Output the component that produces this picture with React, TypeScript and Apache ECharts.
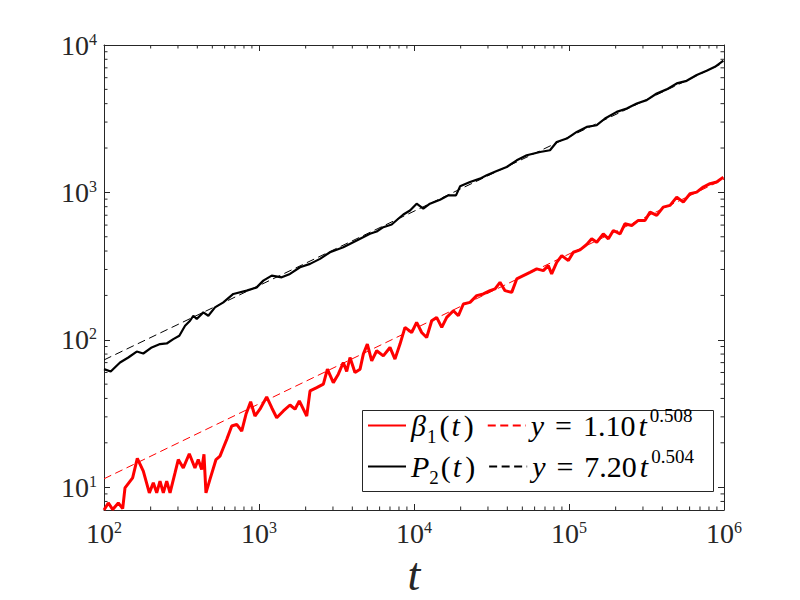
import React, { useEffect, useRef } from 'react';
import * as echarts from 'echarts';

// beta_1(t)
const betaTimes = [
  100, 106.6, 113.8, 123.7, 132.0, 136.6, 153.0, 164.0, 179.3, 196.1, 208.0, 218.8, 229.8, 241.4, 253.9, 266.7,
  287.2, 301.5, 324.8, 355.1, 386.2, 405.5, 426.6, 441.6, 454.8, 482.6, 528.0, 560.2, 588.8, 619.3, 667.1, 718.3,
  773.6, 824.1, 883.4, 941.5, 1014, 1121, 1208, 1301, 1436, 1585, 1707, 1820, 2032, 2134, 2357, 2602, 2762, 3016,
  3249, 3499, 3680, 3865, 4160, 4487, 4710, 5000, 5335, 5745, 6339, 7000, 7535, 8123, 8749, 9662, 10400, 11210,
  12070, 13010, 14000, 15100, 16260, 17950, 19330, 20820, 22980, 25380, 28010, 30920, 33330, 35890, 38650, 42690,
  46000, 50730, 55990, 61880, 68280, 73500, 77270, 83300, 89780, 99080, 106700, 117800, 130100, 140100, 151000,
  166400, 179500, 193200, 213500, 229700, 253900, 279900, 309000, 333400, 368100, 405500, 448700, 495500, 546300,
  603400, 666800, 735200, 812300, 897100, 990800,
];
const betaValues = [
  7.0, 7.82, 7.05, 7.82, 7.16, 9.89, 11.57, 15.67, 12.85, 9.15, 10.7, 9.15, 11.0, 9.15, 11.0, 9.15,
  12.5, 15.4, 13.5, 16.85, 13.5, 15.4, 13.2, 16.7, 9.15, 11.3, 15.4, 16.25, 18.5, 21.1, 26.0, 26.7,
  24.0, 31.2, 38.0, 30.4, 33.8, 41.0, 34.6, 29.6, 32.9, 36.1, 33.8, 38.5, 30.4, 45.0, 47.4, 50.0, 63.2, 51.2,
  58.4, 70.1, 60.9, 75.8, 59.9, 63.2, 79.9, 93.5, 71.9, 84.2, 77.8, 88.7, 73.9, 93.5, 121.3, 112.1, 131.1, 112.1,
  103.7, 134.6, 141.8, 121.3, 141.8, 157.5, 145.6, 174.9, 179.4, 199.2, 204.6, 215.4, 221.3, 245.4, 215.4, 209.7,
  258.8, 272.5, 286.9, 302.6, 294.6, 318.7, 279.9, 335.6, 372.6, 344.6, 392.6, 407.6, 442.7, 484.2, 459.2,
  523.6, 484.2, 551.4, 523.6, 612.6, 596.6, 645.3, 645.3, 734.8, 697.7, 794.3, 816.3, 929.0, 859,
  979.6, 1004, 1087, 1146, 1175, 1270,
];

// P_2(t)
const p2Times = [
  100, 110.5, 126.9, 143.5, 162.6, 179.3, 203.2, 229.8, 253.9, 280.0, 306.2, 333.4, 359.1, 377.0, 396.5, 437.2,
  471.2, 520.2, 588.8, 682.7, 833.0, 966.5, 1066, 1208, 1401, 1585, 1839, 2134, 2475, 2871, 3499, 4270, 5200,
  5745, 6339, 7180, 7917, 8536, 9424, 10400, 11480, 12670, 14720, 16650, 18660, 19820, 22980, 26660, 29440, 34170,
  39640, 46000, 53370, 65010, 75400, 83300, 96700, 112200, 130100, 151000, 170700, 203200, 235600, 273500, 317000,
  368100, 426600, 495500, 574100, 666800, 772700, 874600, 990800,
];
const p2Values = [
  63.2, 60.9, 70.1, 75.8, 83.2, 80.7, 88.7, 93.5, 94.4, 101, 106.4, 124.5, 134.6, 145.6, 138.3, 153.4,
  145.6, 165.9, 179.4, 204.6, 215.4, 226.8, 251.9, 272.5, 265.3, 279.9, 310.4, 327.3, 354, 392.6, 424.6, 471.5, 523.6,
  542.6, 580.7, 605.6, 662.3, 708, 754, 837.7, 774.6, 837.7, 891.9, 954.6, 954.6, 1099, 1175, 1240, 1305, 1396,
  1486, 1651, 1785, 1880, 1931, 2199, 2318, 2571, 2781, 2856, 3171, 3518, 3710, 4012, 4225,
  4690, 5000, 5486, 5715, 6251, 6683, 7117, 7823,
];

// fitted power laws (end points of the dashed lines)
const fitTimes = [100, 1000000];
const fit1Values = [11.4, 1230];
const fit2Values = [73.0, 7600];

const X_MIN = 100;
const X_MAX = 1000000;
const Y_MIN = 7;
const Y_MAX = 10000;
const xDecades = [100, 1000, 10000, 100000];
const yDecades = [1, 10, 100, 1000];
const minorSteps = [2, 3, 4, 5, 6, 7, 8, 9];

const legendRow1 = ['beta', 'fit1'];
const legendRow2 = ['P2', 'fit2'];
const legendLabels: Record<string, string> = {
  beta: '{gb|β}{s1|1}{lp|(}{it|t}{rp|)}',
  fit1: '{y|y}{eq|=}{num|1.10}{t|t}{sup|0.508}',
  P2: '{gp|P}{s2|2}{lp|(}{it|t}{rp|)}',
  fit2: '{y|y}{eq|=}{num|7.20}{t|t}{sup|0.504}',
};

const FONT = '"Liberation Serif", "Times New Roman", serif';
const AXIS = '#262626';

export default function App() {
  const ref = useRef<HTMLDivElement>(null);

  useEffect(() => {
    const chart = echarts.init(ref.current as HTMLDivElement, null, { renderer: 'svg' });
    const zip = (ts: number[], vs: number[]) => ts.map((t, i) => [t, vs[i]]);

    const xMinor: number[] = [];
    xDecades.forEach((d) => minorSteps.forEach((k) => xMinor.push(k * d)));
    const yMinor: number[] = [];
    yDecades.forEach((d) => minorSteps.forEach((k) => {
      const v = k * d;
      if (v > Y_MIN && v < Y_MAX) yMinor.push(v);
    }));
    const minorData = [
      ...xMinor.map((t) => [t, Y_MIN, 0]),
      ...yMinor.map((v) => [X_MIN, v, 1]),
    ];

    const labelFmt = (v: number) => `{b|10}{s|${Math.round(Math.log10(v))}}`;
    const labelRich = {
      b: { fontFamily: FONT, fontSize: 28, lineHeight: 28, color: AXIS },
      s: { fontFamily: FONT, fontSize: 16, lineHeight: 16, verticalAlign: 'top', color: AXIS },
    };

    const axisCommon = {
      type: 'log' as const,
      logBase: 10,
      axisLine: { show: true, lineStyle: { color: AXIS, width: 1 } },
      axisTick: { show: true, inside: true, length: 6, lineStyle: { color: AXIS, width: 1 } },
      splitLine: { show: false },
      minorTick: { show: false },
    };

    const L = 3.5;
    const tickStyle = { stroke: AXIS, lineWidth: 1 };
    const base = { fontFamily: FONT, fontSize: 30, lineHeight: 29, color: '#000' };
    const ital = { ...base, fontStyle: 'italic' };
    const small = { fontFamily: FONT, fontSize: 19, color: '#000' };

    const legendRow = (data: string[], top: number) => ({
      left: 367,
      top,
      orient: 'horizontal',
      padding: 0,
      itemGap: 12,
      itemWidth: 38,
      itemHeight: 14,
      z: 6,
      selectedMode: false,
      itemStyle: { opacity: 0 },
      data,
      formatter: (name: string) => legendLabels[name],
      textStyle: {
        ...base,
        rich: {
          gb: { ...ital },
          gp: { ...ital },
          s1: { ...small, verticalAlign: 'bottom', padding: [0, 2, -6, 1] },
          s2: { ...small, verticalAlign: 'bottom', padding: [0, 1, -6, 0] },
          lp: { ...base, padding: [0, 0, 0, 1] },
          it: { ...ital, padding: [0, 2, 0, 2] },
          rp: { ...base, padding: [0, 1, 0, 2] },
          y: { ...ital },
          eq: { ...base, padding: [0, 11, 0, 11] },
          num: { ...base, padding: [0, 3, 0, 0] },
          t: { ...ital, padding: [0, 2, 0, 0] },
          sup: { ...small, verticalAlign: 'top', padding: [-5, 10, 0, 1] },
        },
      },
    });

    chart.setOption({
      animation: false,
      backgroundColor: '#fff',
      grid: { left: 104, top: 45, right: 76, bottom: 90, containLabel: false, outerBoundsMode: 'none' },
      xAxis: [
        {
          ...axisCommon,
          min: X_MIN,
          max: X_MAX,
          position: 'bottom',
          name: 't',
          nameLocation: 'middle',
          nameGap: 38,
          nameTextStyle: { fontFamily: FONT, fontSize: 46, fontStyle: 'italic', color: AXIS },
          axisLabel: { show: true, margin: 9, formatter: labelFmt, rich: labelRich },
        },
        {
          ...axisCommon,
          min: X_MIN,
          max: X_MAX,
          position: 'top',
          axisLabel: { show: false },
        },
      ],
      yAxis: [
        {
          ...axisCommon,
          min: Y_MIN,
          max: Y_MAX,
          position: 'left',
          axisLabel: { show: true, margin: 7, showMinLabel: false, formatter: labelFmt, rich: labelRich },
        },
        {
          ...axisCommon,
          min: Y_MIN,
          max: Y_MAX,
          position: 'right',
          axisLabel: { show: false },
        },
      ],
      graphic: [
        {
          type: 'rect',
          z: 5,
          silent: true,
          shape: { x: 362.5, y: 410.5, width: 351, height: 81 },
          style: { fill: '#fff', stroke: AXIS, lineWidth: 1 },
        },
      ],
      legend: [legendRow(legendRow1, 406), legendRow(legendRow2, 447)],
      series: [
        {
          name: 'beta',
          type: 'line',
          data: zip(betaTimes, betaValues),
          showSymbol: false,
          symbol: 'none',
          lineStyle: { color: '#ff0000', width: 3 },
          itemStyle: { color: '#ff0000' },
          z: 2,
        },
        {
          name: 'P2',
          type: 'line',
          data: zip(p2Times, p2Values),
          showSymbol: false,
          symbol: 'none',
          lineStyle: { color: '#000000', width: 2.2 },
          itemStyle: { color: '#000000' },
          z: 2,
        },
        {
          name: 'fit1',
          type: 'line',
          data: zip(fitTimes, fit1Values),
          showSymbol: false,
          symbol: 'none',
          lineStyle: { color: '#ff0000', width: 1, type: [8, 4.5] },
          itemStyle: { color: '#ff0000' },
          z: 3,
        },
        {
          name: 'fit2',
          type: 'line',
          data: zip(fitTimes, fit2Values),
          showSymbol: false,
          symbol: 'none',
          lineStyle: { color: '#000000', width: 1, type: [8, 4.5] },
          itemStyle: { color: '#000000' },
          z: 3,
        },
        {
          name: 'minorTicks',
          type: 'custom',
          silent: true,
          clip: false,
          z: 4,
          data: minorData,
          renderItem: (_params: any, api: any) => {
            const kind = api.value(2);
            if (kind === 0) {
              const t = api.value(0);
              const p = api.coord([t, Y_MIN]);
              const q = api.coord([t, Y_MAX]);
              return {
                type: 'group',
                children: [
                  { type: 'line', shape: { x1: p[0], y1: p[1], x2: p[0], y2: p[1] - L }, style: tickStyle },
                  { type: 'line', shape: { x1: q[0], y1: q[1], x2: q[0], y2: q[1] + L }, style: tickStyle },
                ],
              };
            }
            const v = api.value(1);
            const p = api.coord([X_MIN, v]);
            const q = api.coord([X_MAX, v]);
            return {
              type: 'group',
              children: [
                { type: 'line', shape: { x1: p[0], y1: p[1], x2: p[0] + L, y2: p[1] }, style: tickStyle },
                { type: 'line', shape: { x1: q[0], y1: q[1], x2: q[0] - L, y2: q[1] }, style: tickStyle },
              ],
            };
          },
        },
      ],
    });

    return () => {
      chart.dispose();
    };
  }, []);

  return <div ref={ref} style={{ position: 'absolute', left: 0, top: 0, width: 800, height: 600 }} />;
}
